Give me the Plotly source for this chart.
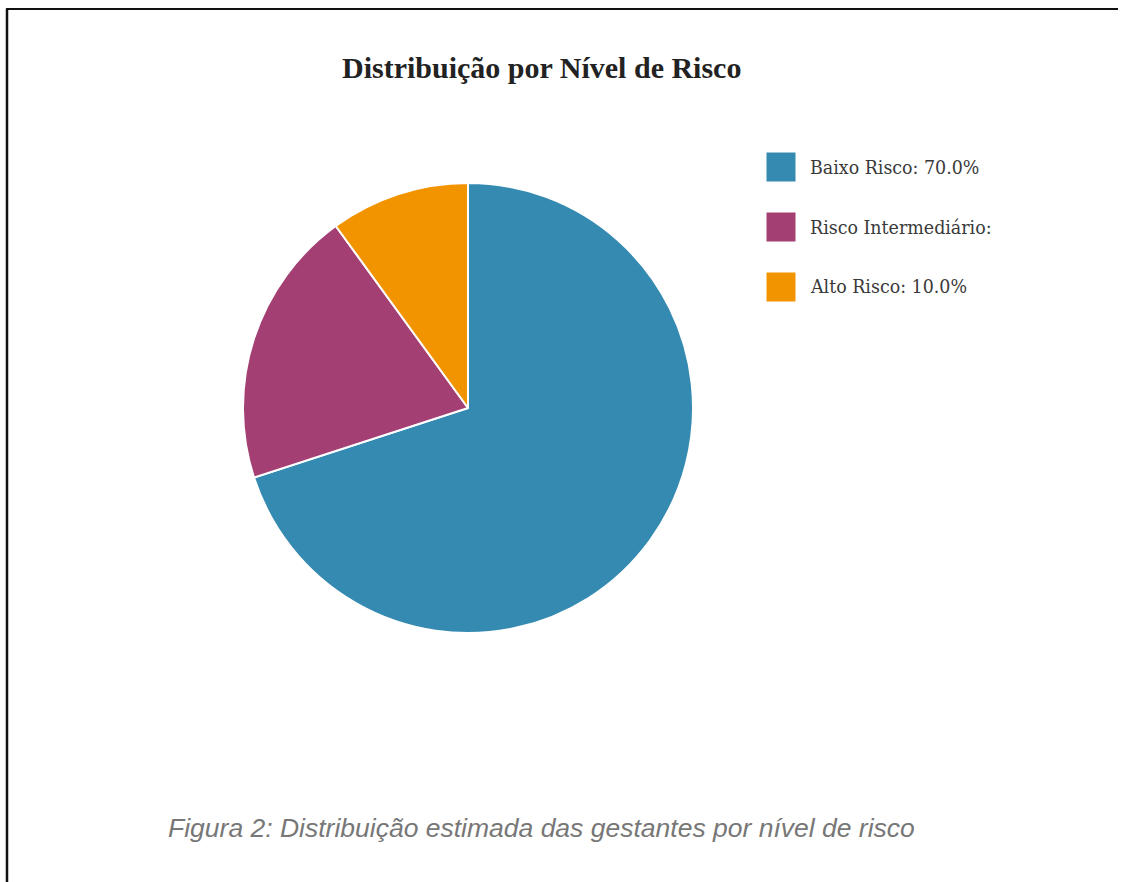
import plotly.graph_objects as go

# Risk-level distribution
labels = ["Baixo Risco", "Risco Intermediário", "Alto Risco"]
values = [70.0, 20.0, 10.0]
colors = ["#348AB0", "#A43F73", "#F29400"]

title_text = "Distribuição por Nível de Risco"
caption_text = "Figura 2: Distribuição estimada das gestantes por nível de risco"

W, H = 1123, 882
total = sum(values)

fig = go.Figure(
    go.Pie(
        labels=labels,
        values=values,
        sort=False,
        direction="clockwise",
        rotation=0,
        marker=dict(colors=colors, line=dict(color="white", width=2)),
        textinfo="none",
        hoverinfo="label+percent",
        showlegend=False,
        domain=dict(x=[243 / W, 693 / W], y=[249 / H, 699 / H]),
    )
)

shapes = [
    # page frame (top and left rules)
    dict(type="line", xref="paper", yref="paper", x0=6 / W, x1=1118 / W,
         y0=1 - 9 / H, y1=1 - 9 / H, line=dict(color="#111", width=2)),
    dict(type="line", xref="paper", yref="paper", x0=7 / W, x1=7 / W,
         y0=1 - 9 / H, y1=0, line=dict(color="#111", width=2.5)),
]
annotations = [
    dict(text=f"<b>{title_text}</b>", xref="paper", yref="paper",
         x=541 / W, y=1 - 67 / H, xanchor="center", yanchor="middle",
         showarrow=False, font=dict(family="Liberation Serif", size=30, color="#222")),
    dict(text=f"<i>{caption_text}</i>", xref="paper", yref="paper",
         x=541 / W, y=1 - 828 / H, xanchor="center", yanchor="middle",
         showarrow=False, font=dict(family="Liberation Sans", size=26.5, color="#777")),
]

# legend: colour swatches with labels clipped to a fixed box width
for i, (lab, val, col) in enumerate(zip(labels, values, colors)):
    yc = 167 + 60 * i
    shapes.append(dict(type="rect", xref="paper", yref="paper",
                       x0=766 / W, x1=796 / W, y0=1 - (yc - 15) / H, y1=1 - (yc + 15) / H,
                       fillcolor=col, line=dict(color="white", width=1)))
    annotations.append(dict(
        text=f"{lab}: {val / total * 100:.1f}%", xref="paper", yref="paper",
        x=808 / W, y=1 - yc / H, xanchor="left", yanchor="middle",
        width=181, align="left", showarrow=False,
        font=dict(family="DejaVu Serif Condensed, DejaVu Serif", size=19.4, color="#3a3a3a")))

fig.update_layout(
    width=W, height=H,
    margin=dict(l=0, r=0, t=0, b=0),
    paper_bgcolor="white", plot_bgcolor="white",
    shapes=shapes, annotations=annotations,
)

fig.write_html("out.html")
